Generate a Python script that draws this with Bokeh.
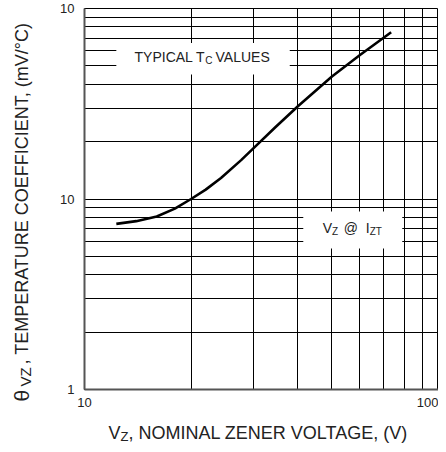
import math
from bokeh.plotting import figure
from bokeh.models import Range1d, FixedTicker, BasicTickFormatter, BoxAnnotation, Label
from bokeh.embed import file_html
from bokeh.resources import INLINE

# ---- data ----
vz_volts = [12.3, 14.0, 16.0, 18.0, 20.0, 22.0, 24.3, 27.7, 30.5, 34.6, 40.0, 50.0, 60.0, 73.5]
tc_mv_per_c = [7.4, 7.65, 8.1, 8.9, 10.0, 11.2, 12.9, 16.0, 19.0, 23.8, 30.6, 44.0, 57.0, 75.0]

x_major = [10, 100]
x_minor = [20, 30, 40, 50, 60, 70, 80, 90]
y_major = [1, 10, 100]
y_minor = [2, 3, 4, 5, 6, 7, 8, 9, 20, 30, 40, 50, 60, 70, 80, 90]
x_tick_labels = {10: "10", 100: "100"}
y_tick_labels = {1: "1", 10: "10", 100: "10"}

FONT = "Liberation Sans"
TXT = "#222222"

p = figure(width=438, height=444, x_axis_type="log", y_axis_type="log",
           x_range=Range1d(10, 100), y_range=Range1d(1, 100),
           output_backend="svg", toolbar_location=None,
           min_border_left=83, min_border_right=0, min_border_top=8, min_border_bottom=55)
p.background_fill_color = "white"
p.border_fill_color = "white"
p.outline_line_color = "black"
p.outline_line_width = 1

xt = FixedTicker(ticks=x_major, minor_ticks=x_minor)
yt = FixedTicker(ticks=y_major, minor_ticks=y_minor)
p.xaxis.ticker = xt
p.yaxis.ticker = yt
p.xgrid.ticker = xt
p.ygrid.ticker = yt
p.xaxis.formatter = BasicTickFormatter()
p.yaxis.formatter = BasicTickFormatter()
p.xaxis.major_label_overrides = x_tick_labels
p.yaxis.major_label_overrides = y_tick_labels

for ax in (p.xaxis, p.yaxis):
    ax.major_tick_in = 0
    ax.major_tick_out = 0
    ax.minor_tick_in = 0
    ax.minor_tick_out = 0
    ax.axis_line_color = "#555555"
    ax.axis_line_width = 2
    ax.major_label_text_font = FONT
    ax.major_label_text_font_size = "13px"
    ax.major_label_text_color = TXT
    ax.axis_label = None
p.yaxis.major_label_standoff = 10
p.xaxis.major_label_standoff = 8

for g in (p.xgrid, p.ygrid):
    g.grid_line_color = "black"
    g.grid_line_width = 1
    g.grid_line_alpha = 1
    g.minor_grid_line_color = "black"
    g.minor_grid_line_width = 1
    g.minor_grid_line_alpha = 1

p.line(vz_volts, tc_mv_per_c, line_color="black", line_width=2.6)

# white label boxes that interrupt the grid
p.add_layout(BoxAnnotation(left=12.3, right=38.0, top=66.0, bottom=45.0,
                           fill_color="white", fill_alpha=1, line_alpha=0))
p.add_layout(BoxAnnotation(left=41.5, right=79.0, top=8.6, bottom=5.5,
                           fill_color="white", fill_alpha=1, line_alpha=0))


def lab(x, y, text, size, dx, dy, angle=0.0, place=None):
    lbl = Label(x=x, y=y, text=text, x_offset=dx, y_offset=dy, angle=angle,
                text_font=FONT, text_font_size=f"{size}px", text_color=TXT,
                text_align="left", text_baseline="alphabetic")
    if place is None:
        p.add_layout(lbl)
    else:
        p.add_layout(lbl, place)


# "TYPICAL T_C VALUES"
bx, by = math.sqrt(12.3 * 38.0), math.sqrt(66.0 * 45.0)
lab(bx, by, "TYPICAL T", 14, -68.5, 2)
lab(bx, by, "C", 10, 2.3, -2)
lab(bx, by, "VALUES", 14, 12.5, 2)

# "V_Z @ I_ZT"
cx, cy = math.sqrt(41.5 * 79.0), math.sqrt(8.6 * 5.5)
lab(cx, cy, "V", 14, -30, 2)
lab(cx, cy, "Z", 10, -20.7, -2)
lab(cx, cy, "@", 14, -9, 2)
lab(cx, cy, "I", 14, 13, 2)
lab(cx, cy, "ZT", 10, 16.9, -2)

# axis titles, anchored at the lower-left corner of the plot area (10 V, 1 mV/°C)
A = math.pi / 2
lab(10, 1, ", TEMPERATURE COEFFICIENT, (mV/\u00b0C)", 18, -63, 25, A, "left")
lab(10, 1, ", NOMINAL ZENER VOLTAGE, (V)", 18, 44, -43, 0.0, "below")
lab(10, 1, "VZ", 15, -59, 3, A, "left")
lab(10, 1, "V", 18, 24, -43, 0.0, "left")
lab(10, 1, "Z", 13, 36, -47, 0.0, "left")
lab(10, 1, "\u03b8", 21, -63, -12, A, "below")

open("out.html", "w").write(file_html(p, INLINE))
